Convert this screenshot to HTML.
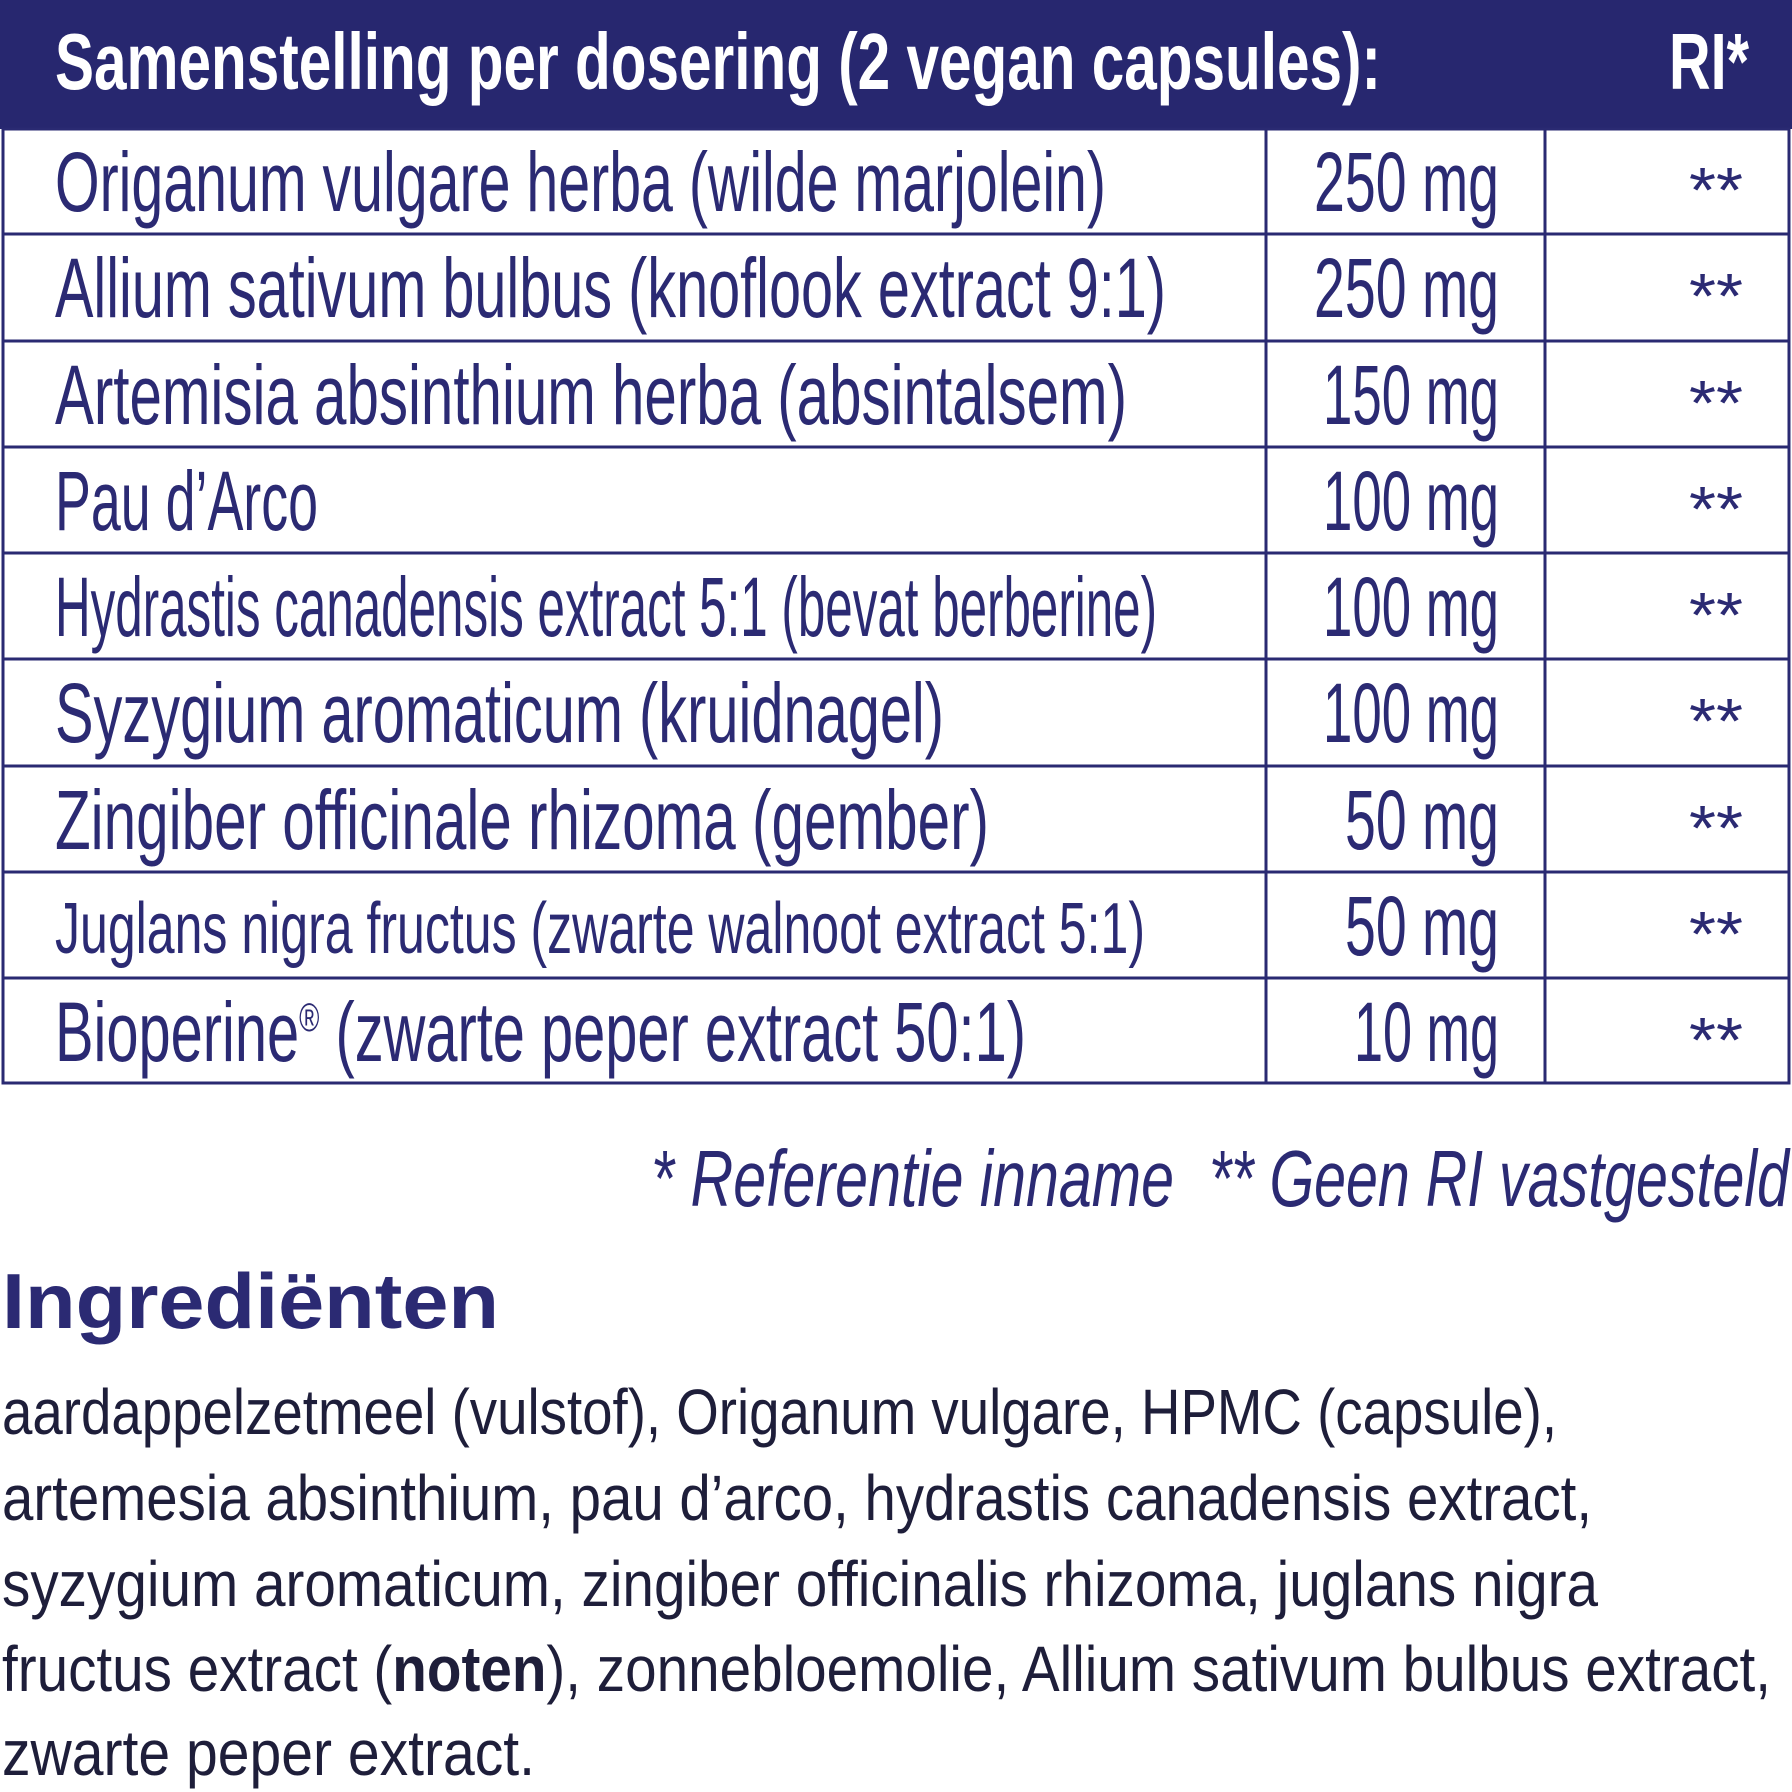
<!DOCTYPE html>
<html><head><meta charset="utf-8"><style>html,body{margin:0;padding:0;background:#fff}svg{display:block}</style></head><body>
<svg width="1792" height="1792" viewBox="0 0 1792 1792" xmlns="http://www.w3.org/2000/svg" font-family="Liberation Sans, sans-serif" fill="#2b2a73">
<rect x="0" y="0" width="1792" height="129" fill="#27276f"/>
<text x="55" y="89" font-size="80" font-weight="bold" fill="#fff" textLength="1326" lengthAdjust="spacingAndGlyphs">Samenstelling per dosering (2 vegan capsules):</text>
<text x="1669" y="89" font-size="80" font-weight="bold" fill="#fff" textLength="80" lengthAdjust="spacingAndGlyphs">RI*</text>
<g stroke="#2a2a72" stroke-width="3" fill="none">
<rect x="3" y="129" width="1786" height="954"/>
<line x1="3" y1="234" x2="1789" y2="234"/>
<line x1="3" y1="341" x2="1789" y2="341"/>
<line x1="3" y1="447" x2="1789" y2="447"/>
<line x1="3" y1="553" x2="1789" y2="553"/>
<line x1="3" y1="659" x2="1789" y2="659"/>
<line x1="3" y1="766" x2="1789" y2="766"/>
<line x1="3" y1="872" x2="1789" y2="872"/>
<line x1="3" y1="978" x2="1789" y2="978"/>
<line x1="1266" y1="129" x2="1266" y2="1083"/>
<line x1="1545" y1="129" x2="1545" y2="1083"/>
</g>
<g font-size="84">
<text x="55" y="211" textLength="1051" lengthAdjust="spacingAndGlyphs">Origanum vulgare herba (wilde marjolein)</text>
<text x="55" y="317" textLength="1111" lengthAdjust="spacingAndGlyphs">Allium sativum bulbus (knoflook extract 9:1)</text>
<text x="55" y="424" textLength="1072" lengthAdjust="spacingAndGlyphs">Artemisia absinthium herba (absintalsem)</text>
<text x="55" y="530" textLength="263" lengthAdjust="spacingAndGlyphs">Pau d’Arco</text>
<text x="55" y="636" textLength="1102" lengthAdjust="spacingAndGlyphs">Hydrastis canadensis extract 5:1 (bevat berberine)</text>
<text x="55" y="742" textLength="889" lengthAdjust="spacingAndGlyphs">Syzygium aromaticum (kruidnagel)</text>
<text x="55" y="849" textLength="934" lengthAdjust="spacingAndGlyphs">Zingiber officinale rhizoma (gember)</text>
<text x="55" y="953" font-size="72" textLength="1090" lengthAdjust="spacingAndGlyphs">Juglans nigra fructus (zwarte walnoot extract 5:1)</text>
<text x="55" y="1061" textLength="971" lengthAdjust="spacingAndGlyphs">Bioperine<tspan font-size="40" dy="-30">®</tspan><tspan dy="30"> (zwarte peper extract 50:1)</tspan></text>
</g>
<g font-size="84" text-anchor="end">
<text x="1499" y="211" textLength="185" lengthAdjust="spacingAndGlyphs">250 mg</text>
<text x="1499" y="317" textLength="185" lengthAdjust="spacingAndGlyphs">250 mg</text>
<text x="1499" y="424" textLength="176" lengthAdjust="spacingAndGlyphs">150 mg</text>
<text x="1499" y="530" textLength="176" lengthAdjust="spacingAndGlyphs">100 mg</text>
<text x="1499" y="636" textLength="176" lengthAdjust="spacingAndGlyphs">100 mg</text>
<text x="1499" y="742" textLength="176" lengthAdjust="spacingAndGlyphs">100 mg</text>
<text x="1499" y="849" textLength="154" lengthAdjust="spacingAndGlyphs">50 mg</text>
<text x="1499" y="955" textLength="154" lengthAdjust="spacingAndGlyphs">50 mg</text>
<text x="1499" y="1061" textLength="145" lengthAdjust="spacingAndGlyphs">10 mg</text>
</g>
<g font-size="64">
<text x="1689" y="212" textLength="54" lengthAdjust="spacingAndGlyphs">**</text>
<text x="1689" y="318" textLength="54" lengthAdjust="spacingAndGlyphs">**</text>
<text x="1689" y="425" textLength="54" lengthAdjust="spacingAndGlyphs">**</text>
<text x="1689" y="531" textLength="54" lengthAdjust="spacingAndGlyphs">**</text>
<text x="1689" y="637" textLength="54" lengthAdjust="spacingAndGlyphs">**</text>
<text x="1689" y="743" textLength="54" lengthAdjust="spacingAndGlyphs">**</text>
<text x="1689" y="850" textLength="54" lengthAdjust="spacingAndGlyphs">**</text>
<text x="1689" y="956" textLength="54" lengthAdjust="spacingAndGlyphs">**</text>
<text x="1689" y="1062" textLength="54" lengthAdjust="spacingAndGlyphs">**</text>
</g>
<g font-size="80" font-style="italic">
<text x="651" y="1206" textLength="523" lengthAdjust="spacingAndGlyphs">* Referentie inname</text>
<text x="1209" y="1206" textLength="580" lengthAdjust="spacingAndGlyphs">** Geen RI vastgesteld</text>
</g>
<text x="2" y="1328" font-size="78" font-weight="bold" textLength="497" lengthAdjust="spacingAndGlyphs">Ingrediënten</text>
<g font-size="64" fill="#1e1e3a">
<text x="2" y="1434" textLength="1555" lengthAdjust="spacingAndGlyphs">aardappelzetmeel (vulstof), Origanum vulgare, HPMC (capsule),</text>
<text x="2" y="1520" textLength="1590" lengthAdjust="spacingAndGlyphs">artemesia absinthium, pau d’arco, hydrastis canadensis extract,</text>
<text x="2" y="1606" textLength="1596" lengthAdjust="spacingAndGlyphs">syzygium aromaticum, zingiber officinalis rhizoma, juglans nigra</text>
<text x="2" y="1691" textLength="1769" lengthAdjust="spacingAndGlyphs">fructus extract (<tspan font-weight="bold">noten</tspan>), zonnebloemolie, Allium sativum bulbus extract,</text>
<text x="2" y="1775" textLength="533" lengthAdjust="spacingAndGlyphs">zwarte peper extract.</text>
</g>
</svg>
</body></html>
